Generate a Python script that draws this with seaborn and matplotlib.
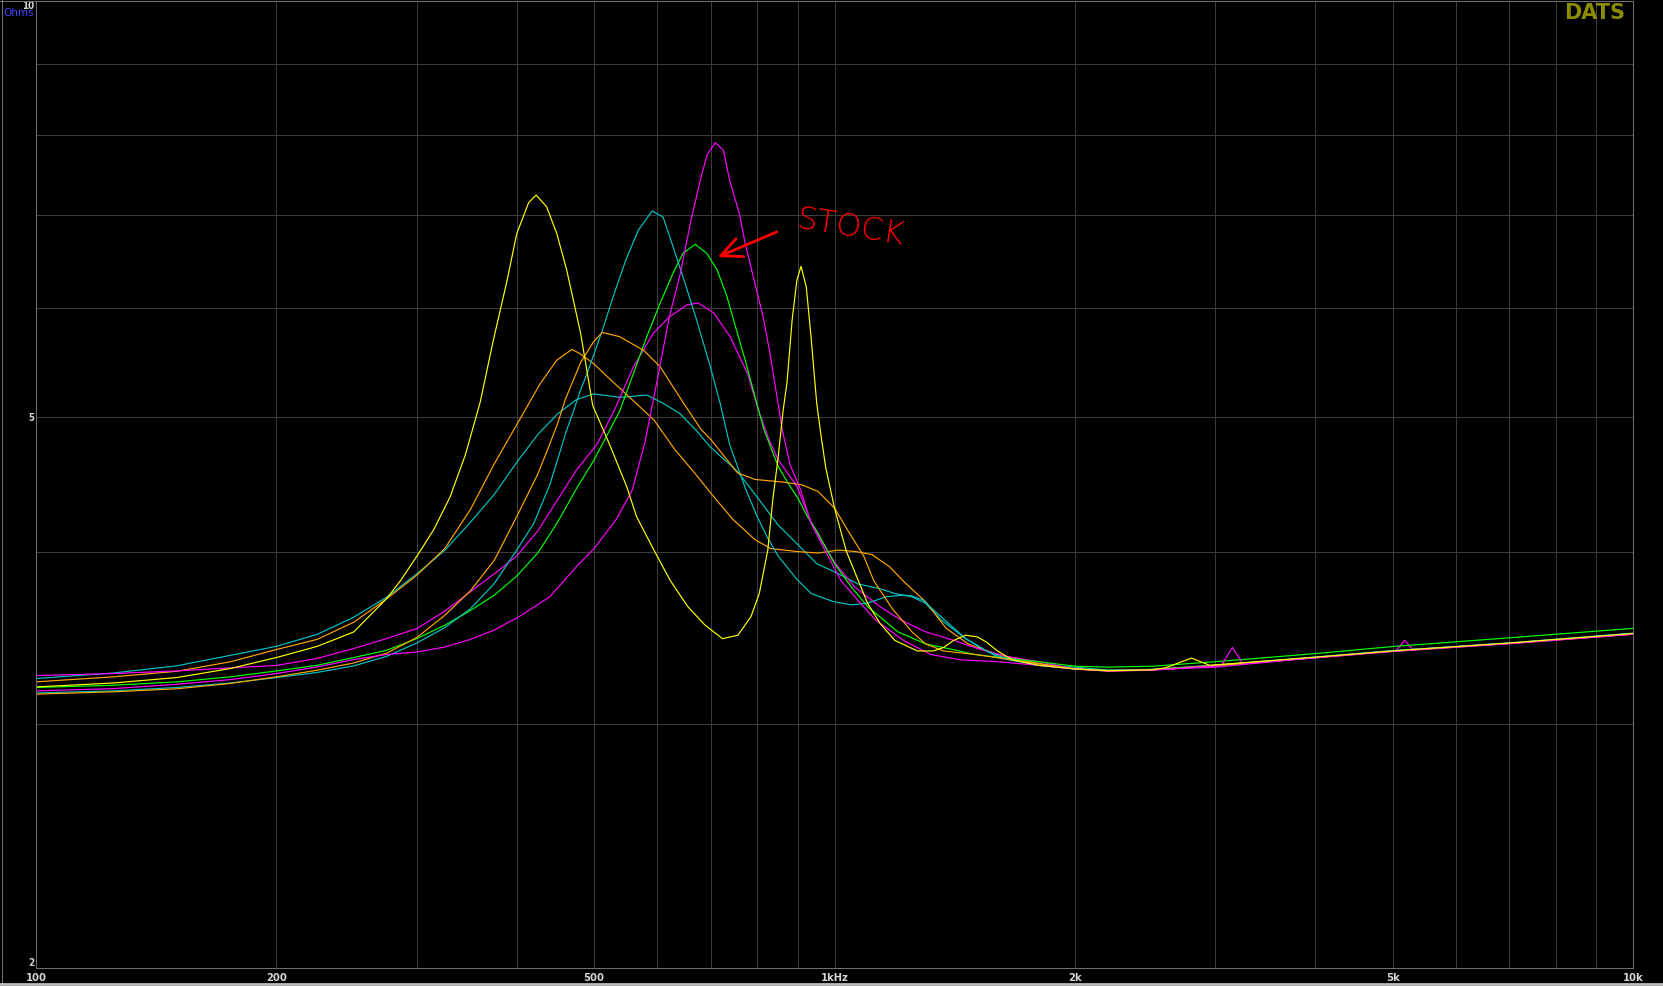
import matplotlib
matplotlib.use("Agg")
import matplotlib.pyplot as plt
import numpy as np
import pandas as pd
import seaborn as sns
from matplotlib.ticker import FixedLocator, NullFormatter
from matplotlib.font_manager import FontProperties
from matplotlib.lines import Line2D

# ---------------- data ----------------
yellow_hz = [100, 125, 150, 175, 200, 225, 250, 275, 286, 300, 315, 330, 345, 360, 374, 389,
             400, 414, 423, 436, 449, 462, 481, 498, 522, 549, 565, 594, 623, 655, 688,
             724, 757, 786, 805, 825, 837, 850, 862, 872, 885, 897, 908, 922, 935, 950,
             962, 975, 1000, 1035, 1100, 1140, 1190, 1270, 1330, 1370, 1410, 1460, 1510,
             1550, 1600, 1670, 1800, 2000, 2200, 2500, 2600, 2800, 2950, 3500, 4000,
             5000, 7000, 10000]
yellow_ohm = [3.193, 3.214, 3.243, 3.292, 3.353, 3.416, 3.499, 3.70, 3.81, 3.97, 4.15, 4.38,
              4.70, 5.13, 5.69, 6.28, 6.79, 7.15, 7.24, 7.10, 6.79, 6.39, 5.75, 5.10, 4.79,
              4.46, 4.24, 4.01, 3.81, 3.65, 3.54, 3.46, 3.48, 3.59, 3.73, 4.01, 4.36, 4.68,
              5.05, 5.30, 5.88, 6.28, 6.43, 6.21, 5.70, 5.12, 4.85, 4.60, 4.30, 4.00, 3.67,
              3.55, 3.45, 3.39, 3.39, 3.41, 3.45, 3.48, 3.47, 3.44, 3.39, 3.34, 3.31, 3.29,
              3.28, 3.285, 3.297, 3.35, 3.31, 3.335, 3.355, 3.39, 3.435, 3.49]

orange_a_hz = [100, 125, 150, 175, 200, 225, 250, 275, 300, 325, 350, 375, 400, 428, 449,
               469, 480, 499, 525, 558, 594, 631, 670, 704, 746, 795, 832, 898, 954, 1012,
               1063, 1114, 1172, 1224, 1300, 1380, 1470, 1600, 1800, 2000, 2200, 2500,
               3000, 4000, 5000, 7000, 10000]
orange_a_ohm = [3.220, 3.247, 3.277, 3.329, 3.398, 3.456, 3.556, 3.698, 3.846, 4.02, 4.29,
                4.63, 4.94, 5.29, 5.50, 5.60, 5.56, 5.47, 5.32, 5.15, 4.98, 4.74, 4.55, 4.39,
                4.22, 4.08, 4.02, 4.00, 3.99, 4.01, 4.00, 3.98, 3.90, 3.80, 3.68, 3.52, 3.43,
                3.37, 3.32, 3.29, 3.282, 3.287, 3.31, 3.353, 3.39, 3.433, 3.488]

orange_b_hz = [100, 125, 150, 175, 200, 225, 250, 275, 300, 325, 350, 375, 400, 425, 436,
               450, 460, 481, 499, 512, 538, 577, 605, 628, 653, 681, 700, 756, 795, 863,
               910, 954, 1000, 1040, 1088, 1120, 1180, 1250, 1300, 1370, 1500, 1670, 2000,
               2200, 2500, 3000, 4000, 5000, 7000, 10000]
orange_b_ohm = [3.155, 3.167, 3.183, 3.211, 3.247, 3.283, 3.323, 3.378, 3.467, 3.597, 3.747,
                3.943, 4.24, 4.55, 4.72, 4.95, 5.15, 5.48, 5.67, 5.76, 5.72, 5.59, 5.44, 5.26,
                5.08, 4.90, 4.82, 4.56, 4.51, 4.49, 4.47, 4.42, 4.30, 4.14, 3.97, 3.81, 3.64,
                3.50, 3.43, 3.39, 3.37, 3.34, 3.29, 3.279, 3.284, 3.308, 3.352, 3.388, 3.432,
                3.486]

cyan_a_hz = [100, 125, 150, 175, 200, 225, 250, 275, 300, 325, 350, 375, 400, 425, 450,
             475, 499, 539, 582, 610, 641, 672, 699, 756, 800, 850, 906, 950, 997, 1070,
             1140, 1190, 1250, 1300, 1360, 1460, 1550, 1610, 1800, 2000, 2200, 2500, 3000,
             4000, 5000, 7000, 10000]
cyan_a_ohm = [3.238, 3.268, 3.307, 3.365, 3.416, 3.485, 3.586, 3.708, 3.855, 4.008, 4.20,
              4.40, 4.64, 4.86, 5.03, 5.15, 5.20, 5.17, 5.19, 5.12, 5.03, 4.89, 4.76, 4.57,
              4.38, 4.18, 4.03, 3.92, 3.87, 3.79, 3.76, 3.73, 3.71, 3.67, 3.57, 3.46, 3.39,
              3.35, 3.31, 3.30, 3.284, 3.288, 3.311, 3.356, 3.392, 3.436, 3.492]

cyan_b_hz = [100, 125, 150, 175, 200, 225, 250, 275, 300, 325, 350, 375, 400, 420, 440,
             452, 461, 471, 480, 490, 512, 530, 548, 568, 591, 610, 628, 646, 672, 699, 719,
             739, 775, 800, 825, 850, 897, 935, 997, 1050, 1100, 1160, 1220, 1250, 1290,
             1330, 1460, 1550, 1610, 1800, 2000, 2200, 2500, 3000, 4000, 5000, 7000, 10000]
cyan_b_ohm = [3.161, 3.172, 3.190, 3.214, 3.243, 3.271, 3.307, 3.360, 3.436, 3.524, 3.637,
              3.793, 4.01, 4.19, 4.47, 4.70, 4.88, 5.05, 5.22, 5.38, 5.78, 6.15, 6.50, 6.83,
              7.05, 6.98, 6.64, 6.32, 5.88, 5.44, 5.12, 4.78, 4.43, 4.24, 4.09, 3.97, 3.82,
              3.73, 3.68, 3.66, 3.67, 3.71, 3.72, 3.715, 3.69, 3.63, 3.46, 3.39, 3.36, 3.31,
              3.29, 3.281, 3.286, 3.309, 3.354, 3.391, 3.434, 3.489]

green_hz = [100, 125, 150, 175, 200, 225, 250, 275, 300, 325, 350, 375, 400, 425, 450, 475,
            500, 538, 560, 582, 605, 628, 646, 669, 692, 713, 733, 752, 773, 794, 816, 850,
            875, 900, 925, 950, 1000, 1050, 1100, 1200, 1300, 1400, 1500, 1600, 1800, 2000,
            2200, 2500, 3000, 4000, 5000, 7000, 10000]
green_ohm = [3.190, 3.202, 3.220, 3.247, 3.279, 3.310, 3.353, 3.394, 3.461, 3.538, 3.626,
             3.72, 3.84, 3.99, 4.20, 4.44, 4.66, 5.05, 5.38, 5.72, 6.05, 6.36, 6.57, 6.67,
             6.57, 6.39, 6.12, 5.81, 5.50, 5.19, 4.90, 4.61, 4.48, 4.37, 4.24, 4.14, 3.92,
             3.77, 3.65, 3.50, 3.43, 3.40, 3.37, 3.355, 3.33, 3.305, 3.30, 3.305, 3.33,
             3.375, 3.415, 3.465, 3.52]

magenta_a_hz = [100, 125, 150, 175, 200, 225, 250, 275, 300, 325, 350, 375, 392, 400, 440,
                475, 500, 533, 558, 579, 599, 621, 641, 661, 681, 693, 709, 726, 739, 760,
                773, 797, 814, 829, 846, 860, 880, 906, 935, 977, 1019, 1069, 1125, 1220,
                1320, 1440, 1600, 1800, 2000, 2200, 2500, 3050, 3150, 3250, 4000, 5000,
                7000, 10000]
magenta_a_ohm = [3.172, 3.184, 3.207, 3.232, 3.265, 3.301, 3.342, 3.370, 3.384, 3.412, 3.456,
                 3.510, 3.56, 3.58, 3.71, 3.90, 4.02, 4.22, 4.43, 4.80, 5.30, 5.91, 6.35,
                 6.94, 7.47, 7.75, 7.90, 7.80, 7.42, 7.02, 6.68, 6.21, 5.91, 5.59, 5.20, 4.90,
                 4.62, 4.44, 4.19, 3.99, 3.81, 3.69, 3.57, 3.45, 3.37, 3.34, 3.33, 3.31, 3.29,
                 3.278, 3.283, 3.307, 3.41, 3.317, 3.351, 3.387, 3.431, 3.485]

magenta_b_hz = [100, 125, 150, 175, 200, 225, 250, 275, 300, 325, 350, 375, 400, 425, 450,
                475, 504, 530, 560, 593, 621, 653, 675, 706, 740, 778, 803, 829, 850, 897,
                935, 961, 1003, 1060, 1140, 1210, 1300, 1410, 1520, 1640, 1800, 2000, 2200,
                2500, 3000, 4000, 5000, 5050, 5175, 5300, 7000, 10000]
magenta_b_ohm = [3.254, 3.265, 3.279, 3.296, 3.309, 3.348, 3.404, 3.461, 3.519, 3.622, 3.741,
                 3.855, 3.97, 4.14, 4.36, 4.58, 4.78, 5.06, 5.44, 5.75, 5.91, 6.03, 6.05,
                 5.95, 5.72, 5.38, 5.06, 4.81, 4.66, 4.46, 4.20, 4.08, 3.92, 3.77, 3.65,
                 3.57, 3.50, 3.45, 3.40, 3.36, 3.33, 3.29, 3.28, 3.286, 3.30, 3.353, 3.39,
                 3.392, 3.45, 3.398, 3.434, 3.487]

series_names = ["cyan_a", "orange_a", "magenta_b", "green", "cyan_b",
                "orange_b", "magenta_a", "yellow"]
series_freqs = [cyan_a_hz, orange_a_hz, magenta_b_hz, green_hz, cyan_b_hz,
                orange_b_hz, magenta_a_hz, yellow_hz]
series_ohms = [cyan_a_ohm, orange_a_ohm, magenta_b_ohm, green_ohm, cyan_b_ohm,
               orange_b_ohm, magenta_a_ohm, yellow_ohm]
series_colors = ["#00c4c4", "#ffa500", "#ff00ff", "#00ff00", "#00c4c4",
                 "#ffa500", "#ff00ff", "#ffff00"]

x_tick_values = [100, 200, 500, 1000, 2000, 5000, 10000]
x_tick_labels = ["100", "200", "500", "1kHz", "2k", "5k", "10k"]
x_grid_values = [300, 400, 600, 700, 800, 900, 3000, 4000, 6000, 7000, 8000, 9000]
y_tick_values = [2, 5, 10]
y_tick_labels = ["2", "5", "10"]
y_grid_values = [3, 4, 6, 7, 8, 9]

annot_text = "STOCK"
annot_text_pos = (897.0, 6.96)
annot_arrow_tip = (714.0, 6.53)
annot_arrow_tail = (847.0, 6.81)

# ---------------- build table ----------------
frames = []
for name, fr, oh in zip(series_names, series_freqs, series_ohms):
    frames.append(pd.DataFrame({"freq": fr, "ohms": oh, "curve": name}))
df = pd.concat(frames, ignore_index=True)
palette = dict(zip(series_names, series_colors))

# ---------------- figure ----------------
W, H = 1663, 986
fig = plt.figure(figsize=(W / 100, H / 100), dpi=100, facecolor="black")
ax = fig.add_axes([36 / W, 18 / H, 1597 / W, 967 / H])
ax.set_facecolor("black")

sns.lineplot(data=df, x="freq", y="ohms", hue="curve", palette=palette,
             hue_order=series_names, estimator=None, sort=False,
             legend=False, linewidth=0.85, ax=ax)

ax.set_xscale("log")
ax.set_yscale("log")
ax.set_xlim(100, 10000)
ax.set_ylim(2, 10)

ax.xaxis.set_major_locator(FixedLocator(x_tick_values))
ax.set_xticklabels(x_tick_labels)
ax.xaxis.set_minor_locator(FixedLocator(x_grid_values))
ax.xaxis.set_minor_formatter(NullFormatter())
ax.yaxis.set_major_locator(FixedLocator(y_tick_values))
ax.set_yticklabels(y_tick_labels)
ax.yaxis.set_minor_locator(FixedLocator(y_grid_values))
ax.yaxis.set_minor_formatter(NullFormatter())

ax.set_axisbelow(True)
ax.grid(which="both", color="#3c3c3c", linewidth=0.75)
ax.tick_params(which="both", length=0)
ax.tick_params(axis="x", pad=3.5, colors="#d4d4d4")
ax.tick_params(axis="y", pad=1.5, colors="#d4d4d4")
ax.set_xlabel("")
ax.set_ylabel("")

tick_font = dict(family="DejaVu Sans", stretch="condensed", weight="bold")
for lab in ax.get_xticklabels():
    lab.set_fontproperties(FontProperties(size=8, **tick_font))
for lab in ax.get_yticklabels():
    lab.set_fontproperties(FontProperties(size=7, **tick_font))
    if lab.get_text() == "10":
        lab.set_va("top")
    elif lab.get_text() == "2":
        lab.set_va("bottom")

for sp in ax.spines.values():
    sp.set_color("#6e6e6e")
    sp.set_linewidth(0.75)

# labels
fig.text(34 / W, 1 - 8.5 / H, "Ohms", ha="right", va="top", color="#4444ff",
         fontsize=7.5, family="DejaVu Sans")
fig.text(1625 / W, 1 - 3 / H, "DATS", ha="right", va="top", color="#8c8c00",
         fontsize=15, weight="bold", family="DejaVu Sans")

# hand annotation
ax.text(annot_text_pos[0], annot_text_pos[1], annot_text, color="#ff0000",
        fontsize=23, rotation=-9, rotation_mode="anchor", ha="left", va="center",
        family="DejaVu Sans", weight="light")
ax.annotate("", xy=annot_arrow_tip, xytext=annot_arrow_tail,
            arrowprops=dict(arrowstyle="->,head_length=0.75,head_width=0.35",
                            mutation_scale=20, color="#ff0000", lw=2.0,
                            shrinkA=0, shrinkB=0))

# outer frame lines
fig.add_artist(Line2D([2 / W, 2 / W], [3 / H, 1], color="#6e6e6e", lw=0.75,
                      transform=fig.transFigure))
fig.add_artist(Line2D([0, 1633 / W], [1 - 0.5 / H, 1 - 0.5 / H], color="#6e6e6e",
                      lw=0.75, transform=fig.transFigure))
fig.add_artist(Line2D([0, 1], [2 / H, 2 / H], color="#bdbdbd", lw=2.0,
                      transform=fig.transFigure))

fig.savefig("out.png", dpi=100, facecolor="black")
